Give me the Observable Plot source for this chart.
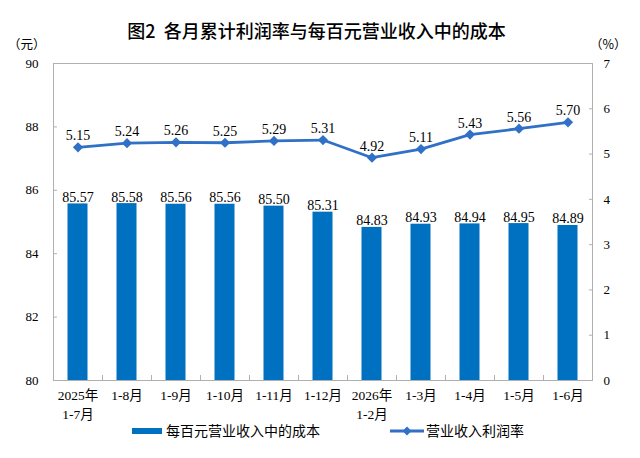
<!DOCTYPE html>
<html><head><meta charset="utf-8">
<script src="https://cdn.jsdelivr.net/npm/d3@7"></script>
<script src="https://cdn.jsdelivr.net/npm/@observablehq/plot@0.6"></script>
<style>
body{margin:0;background:#fff;}
#wrap{position:relative;width:640px;height:458px;overflow:hidden;background:#fff;}
#wrap svg{position:absolute;left:0;top:0;}
.abs{position:absolute;white-space:pre;line-height:1;color:#000;}
.cjk{font-family:"Noto Sans CJK SC",sans-serif;}
.serif{font-family:"Liberation Serif","Times New Roman","Noto Sans CJK SC",serif;}
</style></head><body><div id="wrap"></div>
<script>
const categories = ["2025年\n1-7月","1-8月","1-9月","1-10月","1-11月","1-12月","2026年\n1-2月","1-3月","1-4月","1-5月","1-6月"];
const costPerHundred = [85.57,85.58,85.56,85.56,85.50,85.31,84.83,84.93,84.94,84.95,84.89];
const profitRate = [5.15,5.24,5.26,5.25,5.29,5.31,4.92,5.11,5.43,5.56,5.70];
const leftTicks = [80,82,84,86,88,90];
const rightTicks = [0,1,2,3,4,5,6,7];
const titleText = "图2  各月累计利润率与每百元营业收入中的成本";
const leftUnit = "（元）";
const rightUnit = "（%）";
const seriesNames = ["每百元营业收入中的成本","营业收入利润率"];

const barColor = "#0070C0";
const lineColor = "#3070C6";
const gray = "#b0b0b0";
const serif = "Liberation Serif, Times New Roman, Noto Sans CJK SC, serif";

const rightToLeft = v => 80 + v * 10 / 7;
const data = categories.map((c, i) => ({cat: c, cost: costPerHundred[i], rate: profitRate[i]}));

const chart = Plot.plot({
  width: 640,
  height: 458,
  marginLeft: 53,
  marginRight: 48,
  marginTop: 63,
  marginBottom: 78,
  style: {fontFamily: serif, background: "white", color: "#000"},
  x: {domain: categories, padding: 0, axis: null, label: null},
  y: {domain: [80, 90], axis: null, label: null},
  marks: [
    Plot.barY(data, {x: "cat", y1: 80, y2: "cost", fill: barColor, insetLeft: 14.5, insetRight: 14.5}),
    Plot.frame({stroke: gray, strokeWidth: 1}),
    Plot.axisY(leftTicks, {anchor: "left", label: null, tickSize: -4, text: null, stroke: gray}),
    Plot.axisY(leftTicks, {anchor: "left", label: null, tickSize: 0, tickPadding: 15, fontSize: 13, fill: "#000", fontFamily: serif}),
    Plot.axisY(rightTicks, {y: rightToLeft, anchor: "right", label: null, tickSize: -4, text: null, stroke: gray}),
    Plot.axisY(rightTicks, {y: rightToLeft, anchor: "right", label: null, tickSize: 0, tickPadding: 11, tickFormat: d => String(d), fontSize: 13, fill: "#000", fontFamily: serif}),
    Plot.axisX(categories, {anchor: "bottom", label: null, tickSize: -5, text: null, stroke: gray, dx: -24.5}),
    Plot.axisX(categories, {anchor: "bottom", label: null, tickSize: 0, tickPadding: 7, fontSize: 13.5, lineHeight: 1.35, fill: "#000", fontFamily: serif}),
    Plot.text(data, {x: "cat", y: "cost", text: d => d.cost.toFixed(2), lineAnchor: "bottom", dy: -2, fontSize: 14, fill: "#000", fontFamily: serif}),
    Plot.line(data, {x: "cat", y: d => rightToLeft(d.rate), stroke: lineColor, strokeWidth: 2.8}),
    Plot.dot(data, {x: "cat", y: d => rightToLeft(d.rate), symbol: "diamond2", r: 4.6, fill: lineColor, stroke: "none"}),
    Plot.text(data, {x: "cat", y: d => rightToLeft(d.rate), text: d => d.rate.toFixed(2), lineAnchor: "bottom", dy: -7, fontSize: 14, fill: "#000", fontFamily: serif})
  ]
});

const wrap = document.getElementById("wrap");
wrap.appendChild(chart);

function addDiv(text, cls, css) {
  const d = document.createElement("div");
  d.className = "abs " + cls;
  d.textContent = text;
  Object.assign(d.style, css);
  wrap.appendChild(d);
  return d;
}
// title
addDiv(titleText, "cjk", {left: "0px", width: "633px", textAlign: "center", top: "21px", fontSize: "18px", fontWeight: "500"});
// units
addDiv(leftUnit, "cjk", {left: "8px", top: "38px", fontSize: "12.5px"});
addDiv(rightUnit, "cjk", {left: "590px", top: "38px", fontSize: "12.5px"});
// legend
const sw1 = document.createElement("div");
Object.assign(sw1.style, {position: "absolute", left: "132px", top: "428px", width: "30px", height: "6px", background: barColor});
wrap.appendChild(sw1);
addDiv(seriesNames[0], "cjk", {left: "166px", top: "423px", fontSize: "14px"});
const ns = "http://www.w3.org/2000/svg";
const sw2 = document.createElementNS(ns, "svg");
sw2.setAttribute("width", "34"); sw2.setAttribute("height", "12");
Object.assign(sw2.style, {position: "absolute", left: "390px", top: "425px"});
const ln = document.createElementNS(ns, "line");
ln.setAttribute("x1", "0"); ln.setAttribute("x2", "34"); ln.setAttribute("y1", "6"); ln.setAttribute("y2", "6");
ln.setAttribute("stroke", lineColor); ln.setAttribute("stroke-width", "2.8");
sw2.appendChild(ln);
const dm = document.createElementNS(ns, "path");
dm.setAttribute("d", "M17,1.5L21.5,6L17,10.5L12.5,6Z");
dm.setAttribute("fill", lineColor);
sw2.appendChild(dm);
wrap.appendChild(sw2);
addDiv(seriesNames[1], "cjk", {left: "426px", top: "423px", fontSize: "14px"});
</script>
</body></html>
